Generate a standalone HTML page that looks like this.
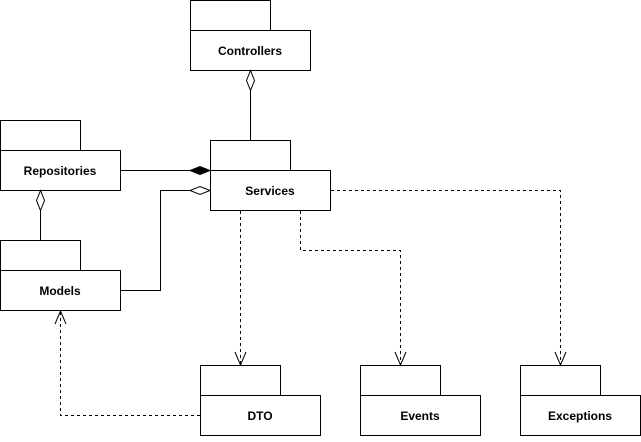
<!DOCTYPE html>
<html><head><style>body{margin:0;background:#fff}</style></head><body>
<svg width="641" height="437" xmlns="http://www.w3.org/2000/svg" font-family="Liberation Sans, Arial, sans-serif" font-size="12" font-weight="bold">
<g fill="#fff" stroke="#000" stroke-width="1">
<rect x="190.5" y="0.5" width="80" height="30"/><rect x="190.5" y="30.5" width="120" height="40"/>
<rect x="0.5" y="120.5" width="80" height="30"/><rect x="0.5" y="150.5" width="120" height="40"/>
<rect x="210.5" y="140.5" width="80" height="30"/><rect x="210.5" y="170.5" width="120" height="40"/>
<rect x="0.5" y="240.5" width="80" height="30"/><rect x="0.5" y="270.5" width="120" height="40"/>
<rect x="200.5" y="365.5" width="80" height="30"/><rect x="200.5" y="395.5" width="120" height="40"/>
<rect x="360.5" y="365.5" width="80" height="30"/><rect x="360.5" y="395.5" width="120" height="40"/>
<rect x="520.5" y="365.5" width="80" height="30"/><rect x="520.5" y="395.5" width="120" height="40"/>
</g>
<g text-anchor="middle" fill="#000">
<text x="250" y="55">Controllers</text>
<text x="60" y="175">Repositories</text>
<text x="270" y="195">Services</text>
<text x="60" y="295">Models</text>
<text x="260" y="420">DTO</text>
<text x="420" y="420">Events</text>
<text x="580" y="420">Exceptions</text>
</g>
<g stroke="#000" fill="none">
<path d="M250.5 140V90"/>
<path d="M250.5 70.5l-4 10 4 10 4-10z" fill="#fff"/>
<path d="M120 170.5H190"/>
<path d="M210 170.5l-10-4-10 4 10 4z" fill="#000"/>
<path d="M120 290.5H160.5V190.5H190"/>
<path d="M210 190.5l-10-4-10 4 10 4z" fill="#fff"/>
<path d="M40.5 210V240"/>
<path d="M40.5 190.5l-4 10 4 10 4-10z" fill="#fff"/>
<g stroke-dasharray="3,3">
<path d="M240.5 211V365"/>
<path d="M300.5 211V250.5H400.5V365"/>
<path d="M331 190.5H560.5V365"/>
<path d="M200 415.5H60.5V311"/>
</g>
<path d="M235 352l5.5 13 5.5-13M395 352l5.5 13 5.5-13M555 352l5.5 13 5.5-13M55 324l5.5-13 5.5 13"/>
</g>
</svg>
</body></html>
